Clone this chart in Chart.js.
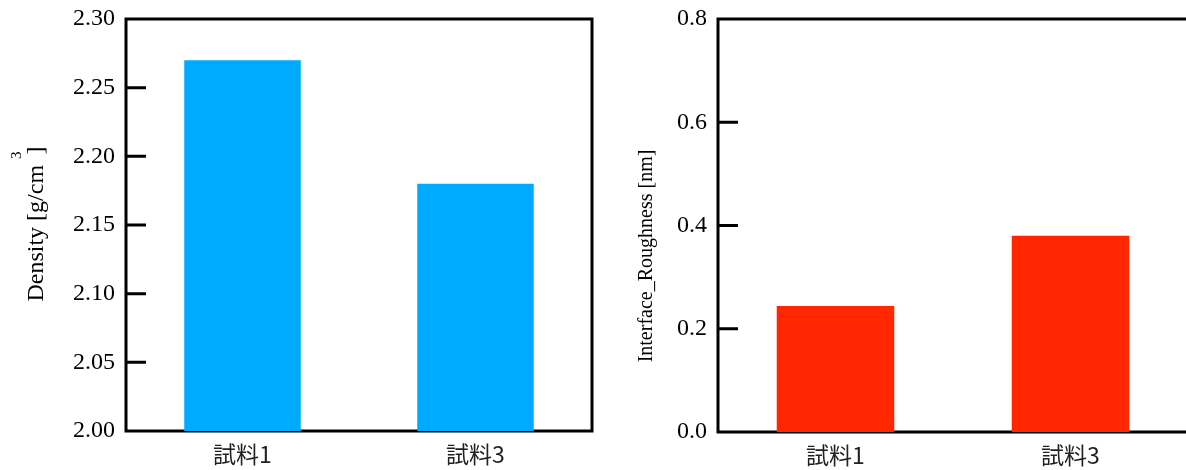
<!DOCTYPE html>
<html><head><meta charset="utf-8">
<script src="https://cdn.jsdelivr.net/npm/chart.js@4/dist/chart.umd.min.js"></script>
<style>
html,body{margin:0;padding:0;background:#fff;overflow:hidden;width:1186px;height:470px;}
#wrap{position:relative;width:1186px;height:470px;overflow:hidden;background:#fff;}
.box{position:absolute;top:0;height:470px;width:600px;}
#b1{left:0}
#b2{left:600px}
</style></head><body>
<div id="wrap"><div class="box" id="b1"><canvas id="c1"></canvas></div><div class="box" id="b2"><canvas id="c2"></canvas></div></div>
<script>
const categories = ['試料1', '試料3'];
const densityValues = [2.27, 2.18];
const roughnessValues = [0.244, 0.38];
const densityAxis = {min: 2.0, max: 2.3, step: 0.05, decimals: 2};
const roughnessAxis = {min: 0, max: 0.8, step: 0.2, decimals: 1};

const framePlugin = {
  id: 'frame',
  beforeDatasetsDraw(chart, args, opts) {
    const {ctx, chartArea: a} = chart;
    const y = chart.scales.y;
    ctx.save();
    ctx.strokeStyle = '#000';
    ctx.lineWidth = 3;
    ctx.strokeRect(a.left, a.top, a.right - a.left, a.bottom - a.top);
    ctx.beginPath();
    y.ticks.forEach((t, i) => {
      const py = y.getPixelForTick(i);
      if (Math.abs(py - a.top) < 2 || Math.abs(py - a.bottom) < 2) return;
      ctx.moveTo(a.left, py);
      ctx.lineTo(a.left + opts.tick, py);
    });
    ctx.stroke();
    ctx.restore();
  },
  afterDraw(chart, args, opts) {
    const ctx = chart.ctx;
    ctx.save();
    ctx.translate(opts.x, opts.cy);
    ctx.rotate(-Math.PI / 2);
    ctx.fillStyle = '#000';
    ctx.textBaseline = 'alphabetic';
    let total = 0;
    const parts = opts.parts.map(p => {
      ctx.font = p.size + 'px "Liberation Serif"';
      const w = ctx.measureText(p.text).width;
      total += w + (p.dx || 0);
      return Object.assign({}, p, {w});
    });
    let x = -total / 2;
    parts.forEach(p => {
      ctx.font = p.size + 'px "Liberation Serif"';
      x += (p.dx || 0);
      ctx.fillText(p.text, x, -(p.rise || 0));
      x += p.w;
    });
    ctx.restore();
  }
};

function makeChart(id, values, color, axis, yWidth, xHeight, padTop, padRight, title) {
  return new Chart(document.getElementById(id), {
    type: 'bar',
    data: {
      labels: categories,
      datasets: [{
        data: values,
        backgroundColor: color,
        borderWidth: 0,
        barPercentage: 0.5,
        categoryPercentage: 1.0
      }]
    },
    options: {
      responsive: true,
      maintainAspectRatio: false,
      animation: false,
      layout: {padding: {left: 0, top: padTop, right: padRight, bottom: 0}},
      plugins: {
        legend: {display: false},
        tooltip: {enabled: false},
        frame: Object.assign({tick: 20}, title)
      },
      scales: {
        x: {
          grid: {display: false, drawTicks: false},
          border: {display: false},
          ticks: {font: {family: "'Noto Sans CJK JP'", size: 23}, color: '#222', padding: 9},
          afterFit(s) { s.height = xHeight; s.paddingLeft = 0; s.paddingRight = 0; }
        },
        y: {
          min: axis.min, max: axis.max,
          grid: {display: false, drawTicks: false},
          border: {display: false},
          ticks: {
            stepSize: axis.step,
            callback: v => Number(v).toFixed(axis.decimals),
            font: {family: "'Liberation Serif'", size: 24},
            color: '#000',
            padding: 11
          },
          afterFit(s) { s.width = yWidth; s.paddingTop = 0; s.paddingBottom = 0; }
        }
      }
    },
    plugins: [framePlugin]
  });
}

makeChart('c1', densityValues, '#00aaff', densityAxis, 126, 39, 19, 8,
  {x: 43, cy: 224, parts: [{text: 'Density [g/cm ', size: 24}, {text: '3', size: 15, rise: 22}, {text: ']', size: 24, dx: -3}]});
makeChart('c2', roughnessValues, '#ff2600', roughnessAxis, 118, 38, 19, 12,
  {x: 52, cy: 256, parts: [{text: 'Interface_Roughness [nm]', size: 20}]});
</script>
</body></html>
